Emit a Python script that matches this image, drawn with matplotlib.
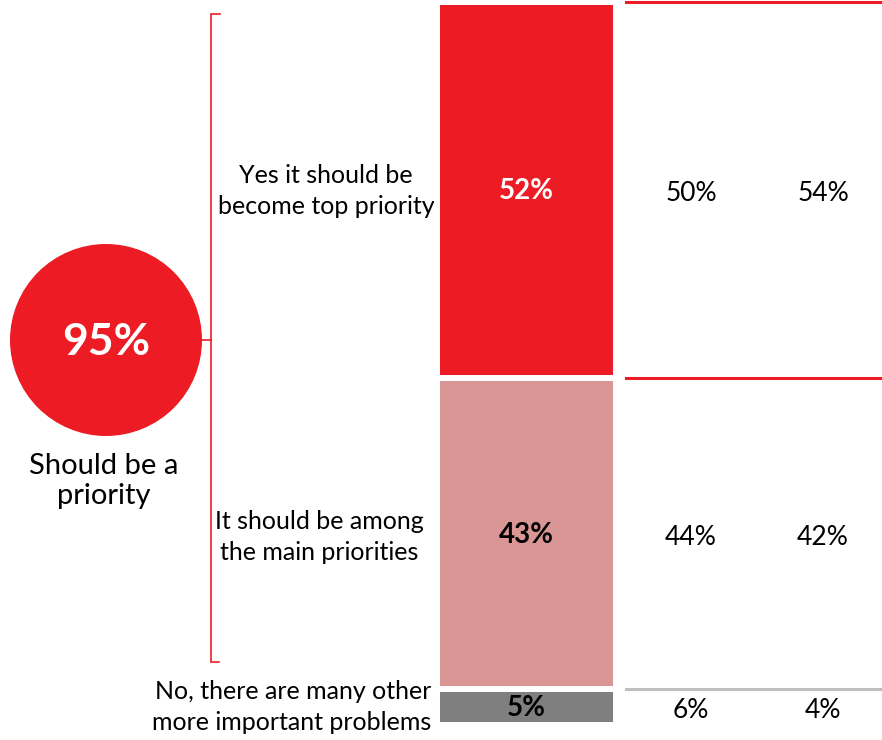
import matplotlib

matplotlib.use("Agg")
import matplotlib.pyplot as plt
from matplotlib.patches import Circle

plt.rcParams["font.family"] = ["Lato", "DejaVu Sans"]

# survey answers, top to bottom
CATEGORIES = [
    "Yes it should be\nbecome top priority",
    "It should be among\nthe main priorities",
    "No, there are many other\nmore important problems",
]
TOTAL = [52, 43, 5]
GROUP_A = [50, 44, 6]
GROUP_B = [54, 42, 4]
PRIORITY_SHARE = 95
PRIORITY_LABEL = "Should be a\npriority"

RED = "#ED1C24"
PINK = "#D99694"
GREY = "#7F7F7F"
SEGMENT_COLORS = [RED, PINK, GREY]
LINE_COLORS = [RED, RED, "#BFBFBF"]
VALUE_COLORS = ["white", "black", "black"]

W, H = 882, 740
fig = plt.figure(figsize=(W / 100, H / 100), dpi=100)

# pixel-space canvas for circle, bracket and category labels
canvas = fig.add_axes([0, 0, 1, 1])
canvas.set_xlim(0, W)
canvas.set_ylim(H, 0)
canvas.axis("off")


def box(x0, x1, y0, y1):
    return [x0 / W, 1 - y1 / H, (x1 - x0) / W, (y1 - y0) / H]


BAR_TOP, BAR_BOTTOM = 2, 725

# stacked total bar
bar_ax = fig.add_axes(box(437, 616, BAR_TOP, BAR_BOTTOM))
bar_ax.set_xlim(-0.5, 0.5)
bar_ax.set_ylim(100, 0)
bar_ax.axis("off")
bottom = 0
for val, color, tcolor in zip(TOTAL, SEGMENT_COLORS, VALUE_COLORS):
    bar_ax.bar(0, val, bottom=bottom, width=1.0, color=color,
               edgecolor="white", linewidth=4.3, clip_on=False)
    bar_ax.text(0, bottom + val / 2 + 0.2, f"{val}%", ha="center", va="center",
                fontsize=20, fontweight="bold", color=tcolor)
    bottom += val

# breakdown columns
cols_ax = fig.add_axes(box(626, 882, BAR_TOP, BAR_BOTTOM))
cols_ax.set_xlim(0, 256)
cols_ax.set_ylim(100, 0)
cols_ax.axis("off")
col_x = [65, 197]
bottom = 0
for a, b, val, lc in zip(GROUP_A, GROUP_B, TOTAL, LINE_COLORS):
    cols_ax.axhline(bottom, color=lc, linewidth=2.2, clip_on=False)
    mid = bottom + val / 2
    cols_ax.text(col_x[0], mid + 0.5, f"{a}%", ha="center", va="center", fontsize=19)
    cols_ax.text(col_x[1], mid + 0.5, f"{b}%", ha="center", va="center", fontsize=19)
    bottom += val

# big circle with overall share
canvas.add_patch(Circle((106, 340), 96, color=RED, lw=0))
canvas.text(106, 342, f"{PRIORITY_SHARE}%", ha="center", va="center",
            fontsize=32, fontweight="bold", color="white")
canvas.text(104, 481, PRIORITY_LABEL, ha="center", va="center",
            fontsize=21, linespacing=1.15)

# bracket joining the circle to the two "priority" answers
bx = 211
canvas.plot([220, bx, bx, 219], [14, 14, 662, 662], color=RED, lw=1.2,
            solid_joinstyle="miter")
canvas.plot([202, bx], [340, 340], color=RED, lw=1.2)

canvas.text(326, 191, CATEGORIES[0], ha="center", va="center",
            fontsize=18, linespacing=1.4)
canvas.text(319, 537, CATEGORIES[1], ha="center", va="center",
            fontsize=18, linespacing=1.4)
canvas.text(431, 707, CATEGORIES[2], ha="right", va="center",
            fontsize=18, linespacing=1.4)

fig.savefig("out.png", dpi=100)
